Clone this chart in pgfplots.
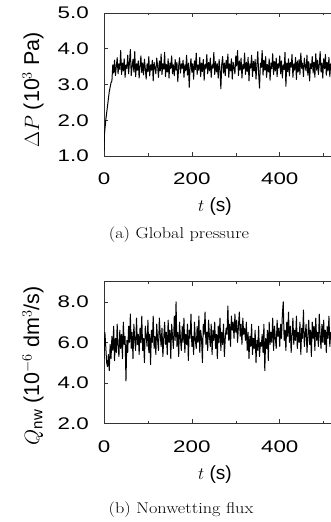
\documentclass[border=0pt]{standalone}
\usepackage{pgfplots}
\pgfplotsset{compat=1.18}
\usepackage{amsmath}
\usepackage{graphicx}
\usepackage{fontspec}
\newfontfamily\hv{Liberation Sans}
\newfontfamily\hvw[FakeStretch=1.33]{Liberation Sans}
\begin{document}
\begin{tikzpicture}[x=1pt,y=1pt]
\begin{scope}
\clip (0,0) rectangle (331,522);
\pgfplotsset{
  myax/.style={
    scale only axis, width=263.6pt,
    xmin=0, xmax=600,
    xtick={0,200,400}, minor xtick={100,300,500},
    tick align=inside, major tick length=4pt, minor tick length=2.5pt,
    axis line style={black!80, line width=0.6pt},
    every tick/.style={black!80, line width=0.5pt},
    tick label style={font=\hvw\fontsize{16.8}{19}\selectfont},
    /pgf/number format/assume math mode=true,
    yticklabel style={anchor=east, inner sep=0pt, xshift=-15pt,
      /pgf/number format/.cd, fixed, fixed zerofill, precision=1},
    xticklabel style={anchor=north, inner sep=0pt, yshift=-17pt},
  }
}
\begin{axis}[myax, height=143pt, at={(104pt,366pt)}, anchor=south west,
  ymin=1, ymax=5, ytick={1,2,3,4,5}]
\addplot[black, line width=1pt, line join=round] coordinates {
(0,1.15)(1,1.6)(4,2.0)(8,2.4)(12,2.8)(16,3.05)
(18,3.10)(20,3.55)(22,3.32)(24,3.68)(26,3.25)(28,3.50)(30,3.75)(32,3.30)(34,3.58)(36,3.42)
(38,3.95)(40,3.28)(42,3.60)(44,3.38)(46,3.72)(48,3.20)(50,3.55)(52,3.45)(54,3.82)(56,3.30)
(58,3.62)(60,3.98)(62,3.25)(64,3.50)(66,3.70)(68,3.35)(70,3.92)(72,3.22)(74,3.58)(76,3.40)
(78,3.66)(80,3.18)(82,3.52)(84,3.80)(86,3.33)(88,3.60)(90,3.27)(92,3.71)(94,3.44)(96,3.15)
(98,3.58)(100,3.36)(102,3.78)(104,3.24)(106,3.55)(108,3.40)(110,3.68)(112,3.10)(114,3.62)(116,3.47)
(118,3.30)(120,3.74)(122,3.52)(124,3.20)(126,3.66)(128,3.38)(130,3.85)(132,3.28)(134,3.58)(136,3.43)
(138,3.90)(140,3.22)(142,3.56)(144,3.35)(146,3.72)(148,3.18)(150,3.60)(152,3.45)(154,3.80)(156,3.30)
(158,3.55)(160,3.25)(162,3.70)(164,3.40)(166,3.62)(168,3.08)(170,3.52)(172,3.75)(174,3.32)(176,3.58)
(178,3.45)(180,3.68)(182,3.20)(184,3.55)(186,3.38)(188,3.82)(190,3.26)(192,3.60)(194,2.92)(196,3.50)
(198,3.72)(200,3.34)(202,3.58)(204,3.15)(206,3.66)(208,3.42)(210,3.88)(212,3.28)(214,3.55)(216,3.40)
(218,3.76)(220,3.22)(222,3.60)(224,3.36)(226,3.70)(228,3.12)(230,3.56)(232,3.45)(234,3.84)(236,3.30)
(238,3.62)(240,3.38)(242,3.74)(244,3.20)(246,3.55)(248,3.46)(250,3.90)(252,3.28)(254,3.64)(256,3.35)
(258,3.58)(260,3.18)(262,3.70)(264,3.42)(266,2.88)(268,3.55)(270,3.78)(272,3.32)(274,3.60)(276,3.25)
(278,3.68)(280,3.45)(282,3.85)(284,3.20)(286,3.58)(288,3.38)(290,3.72)(292,3.15)(294,3.62)(296,3.48)
(298,3.30)(300,3.80)(302,3.52)(304,3.95)(306,3.25)(308,3.66)(310,3.40)(312,3.74)(314,3.18)(316,3.56)
(318,3.44)(320,3.88)(322,3.28)(324,3.62)(326,3.36)(328,3.76)(330,3.10)(332,3.58)(334,3.46)(336,3.82)
(338,3.22)(340,3.65)(342,3.38)(344,3.70)(346,3.15)(348,3.55)(350,3.92)(352,3.30)(354,2.90)(356,3.60)
(358,3.48)(360,3.95)(362,3.26)(364,3.68)(366,3.40)(368,3.78)(370,3.20)(372,3.56)(374,3.35)(376,3.72)
(378,3.12)(380,3.60)(382,3.44)(384,3.86)(386,3.28)(388,3.64)(390,3.38)(392,3.74)(394,3.22)(396,3.58)
(398,3.46)(400,3.80)(402,3.30)(404,3.66)(406,3.18)(408,3.55)(410,3.42)(412,3.90)(414,2.95)(416,3.60)
(418,3.36)(420,3.72)(422,3.24)(424,3.62)(426,3.48)(428,3.84)(430,3.20)(432,3.58)(434,3.40)(436,3.76)
(438,3.14)(440,3.66)(442,3.35)(444,3.70)(446,3.28)(448,3.88)(450,3.45)(452,3.60)(454,3.22)(456,3.74)
(458,3.50)(460,3.38)(462,3.82)(464,3.26)(466,3.64)(468,3.10)(470,3.58)(472,3.44)(474,3.78)(476,3.32)
(478,3.62)(480,3.20)(482,3.86)(484,3.40)(486,3.68)(488,3.28)(490,3.56)(492,3.92)(494,3.35)(496,3.60)
(498,3.18)(500,3.72)(502,3.44)(504,3.84)(506,3.26)(508,3.62)(510,3.38)(512,3.76)(514,3.22)(516,3.58)
(518,3.46)(520,3.80)(522,3.30)(524,3.66)(526,3.50)(528,3.70)(530,3.40)
};
\end{axis}
\begin{axis}[myax, height=141.6pt, at={(104pt,98.7pt)}, anchor=south west,
  ymin=2, ymax=9, ytick={2,4,6,8}]
\addplot[black, line width=1pt, line join=round] coordinates {
(0,5.2)(2,6.5)(4,5.8)(6,5.0)(8,4.8)(10,5.4)(12,4.6)(14,5.9)(16,5.2)(18,6.3)
(20,5.6)(22,6.8)(24,5.1)(26,6.2)(28,5.5)(30,6.9)(32,5.8)(34,5.3)(36,6.6)(38,5.7)
(40,6.4)(42,5.2)(44,7.0)(46,5.9)(48,6.3)(50,4.1)(52,6.1)(54,5.5)(56,6.8)(58,6.0)
(60,7.4)(62,5.7)(64,6.5)(66,5.2)(68,6.9)(70,6.1)(72,5.6)(74,7.2)(76,5.9)(78,6.4)
(80,5.4)(82,6.7)(84,6.0)(86,7.3)(88,5.6)(90,6.2)(92,5.0)(94,6.8)(96,6.3)(98,5.8)
(100,7.1)(102,5.5)(104,6.4)(106,4.9)(108,6.6)(110,6.0)(112,7.3)(114,5.7)(116,6.3)(118,5.4)
(120,6.9)(122,6.1)(124,5.6)(126,7.2)(128,6.4)(130,5.8)(132,6.7)(134,5.3)(136,6.2)(138,7.0)
(140,5.9)(142,6.5)(144,5.4)(146,7.1)(148,6.0)(150,6.6)(152,5.2)(154,6.9)(156,6.3)(158,5.7)
(160,7.3)(162,6.1)(164,8.0)(166,5.8)(168,6.5)(170,5.3)(172,7.0)(174,6.2)(176,5.6)(178,6.8)
(180,6.0)(182,7.2)(184,5.5)(186,6.4)(188,5.9)(190,6.9)(192,5.1)(194,6.6)(196,6.2)(198,7.4)
(200,5.8)(202,6.3)(204,5.4)(206,7.0)(208,6.1)(210,5.7)(212,6.8)(214,6.0)(216,7.3)(218,5.5)
(220,6.6)(222,6.2)(224,5.0)(226,6.9)(228,6.4)(230,7.5)(232,5.9)(234,6.5)(236,5.6)(238,7.1)
(240,6.3)(242,5.8)(244,6.9)(246,5.4)(248,6.6)(250,6.1)(252,7.0)(254,5.7)(256,6.4)(258,5.2)
(260,6.8)(262,6.0)(264,7.2)(266,5.6)(268,6.5)(270,5.9)(272,6.9)(274,5.3)(276,6.2)(278,6.7)
(280,6.4)(282,7.8)(284,6.1)(286,6.9)(288,5.8)(290,7.3)(292,6.6)(294,7.0)(296,6.2)(298,7.4)
(300,6.5)(302,7.1)(304,6.0)(306,6.8)(308,7.5)(310,6.3)(312,6.9)(314,5.9)(316,7.2)(318,6.4)
(320,6.7)(322,6.1)(324,7.0)(326,5.6)(328,6.5)(330,5.2)(332,6.3)(334,5.8)(336,6.9)(338,5.4)
(340,6.2)(342,5.7)(344,6.6)(346,5.0)(348,6.1)(350,5.6)(352,6.8)(354,5.3)(356,6.0)(358,5.8)
(360,6.4)(362,5.5)(364,6.9)(366,4.6)(368,6.2)(370,5.7)(372,6.6)(374,5.1)(376,7.0)(378,5.9)
(380,6.5)(382,6.0)(384,7.2)(386,5.6)(388,6.8)(390,6.2)(392,5.7)(394,7.1)(396,6.3)(398,6.7)
(400,5.8)(402,6.9)(404,6.2)(406,7.4)(408,8.0)(410,6.1)(412,6.6)(414,5.6)(416,7.0)(418,6.3)
(420,7.5)(422,6.0)(424,6.8)(426,5.5)(428,6.4)(430,7.2)(432,5.9)(434,6.6)(436,6.1)(438,7.3)
(440,5.7)(442,6.5)(444,6.0)(446,7.0)(448,5.4)(450,6.7)(452,6.2)(454,7.6)(456,5.8)(458,6.4)
(460,6.9)(462,5.5)(464,6.3)(466,7.1)(468,5.9)(470,6.6)(472,5.3)(474,7.0)(476,6.2)(478,6.8)
(480,5.6)(482,7.2)(484,6.1)(486,6.5)(488,5.8)(490,7.4)(492,6.3)(494,5.7)(496,6.9)(498,6.0)
(500,7.1)(502,5.9)(504,6.6)(506,5.5)(508,6.8)(510,6.2)(512,7.3)(514,5.8)(516,6.5)(518,6.1)
(520,7.0)(522,6.3)(524,5.9)(526,6.7)(528,6.2)(530,6.6)
};
\end{axis}
% axis labels
\node[font=\hv\fontsize{19}{22}\selectfont, anchor=base] at (215,310) {$t$ (s)};
\node[font=\hv\fontsize{19}{22}\selectfont, anchor=base] at (215,42) {$t$ (s)};
\node[font=\hv\fontsize{21.5}{24}\selectfont, rotate=90] at (33,432) {$\Delta P$ (10$^{3}$ Pa)};
\node[font=\hv\fontsize{21.5}{24}\selectfont, rotate=90] at (33,156) {$Q_{\text{\hv nw}}$ (10$^{-6}$ dm$^{3}$/s)};
% captions
\node at (179,287) {\scalebox{1.17}[1]{\fontsize{15.6}{18}\selectfont (a) Global pressure}};
\node at (181,12) {\scalebox{1.17}[1]{\fontsize{15.6}{18}\selectfont (b) Nonwetting flux}};
\end{scope}
\pgfresetboundingbox
\useasboundingbox (0,0) rectangle (331,522);
\end{tikzpicture}
\end{document}
